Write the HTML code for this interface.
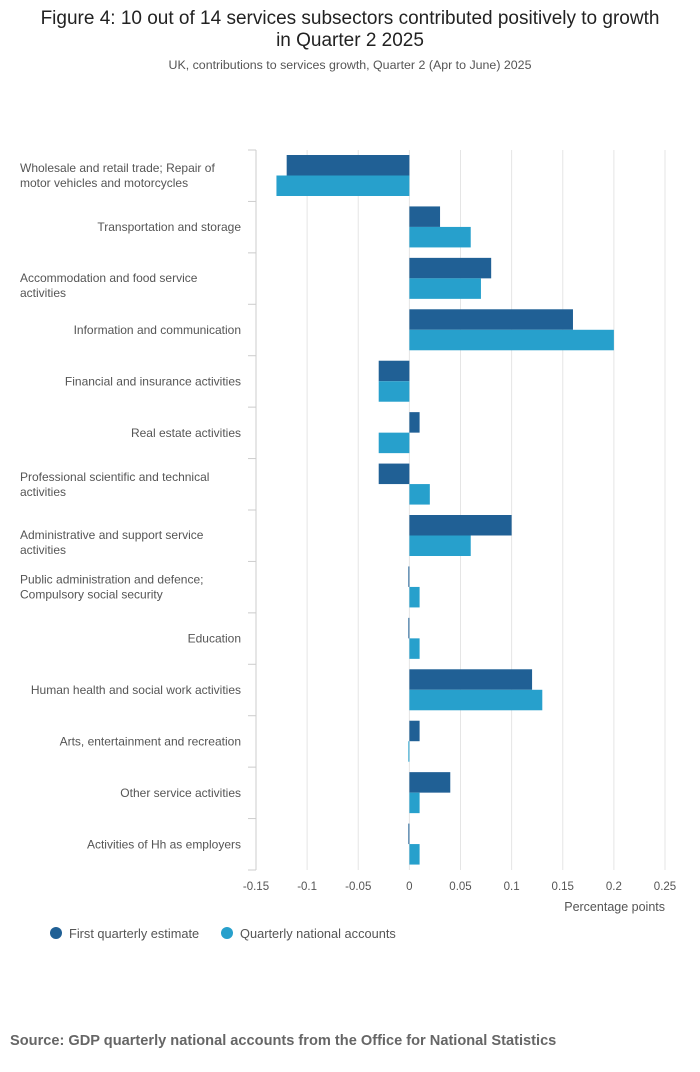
<!DOCTYPE html>
<html><head><meta charset="utf-8"><style>
body{margin:0;background:#fff;font-family:"Liberation Sans",sans-serif;}
#wrap{position:relative;width:700px;height:1067px;}
</style></head><body>
<div id="wrap">
<svg id="chart" width="700" height="1067" xmlns="http://www.w3.org/2000/svg"></svg>
</div>
<script>
const categories=[["Wholesale and retail trade; Repair of","motor vehicles and motorcycles"],["Transportation and storage"],["Accommodation and food service","activities"],["Information and communication"],["Financial and insurance activities"],["Real estate activities"],["Professional scientific and technical","activities"],["Administrative and support service","activities"],["Public administration and defence;","Compulsory social security"],["Education"],["Human health and social work activities"],["Arts, entertainment and recreation"],["Other service activities"],["Activities of Hh as employers"]];
const firstEstimate=[-0.12,0.03,0.08,0.16,-0.03,0.01,-0.03,0.1,-0.001,-0.001,0.12,0.01,0.04,-0.001];
const qna=[-0.13,0.06,0.07,0.2,-0.03,-0.03,0.02,0.06,0.01,0.01,0.13,-0.001,0.01,0.01];
const ticks=[-0.15,-0.1,-0.05,0,0.05,0.1,0.15,0.2,0.25];
const tickLabels=["-0.15","-0.1","-0.05","0","0.05","0.1","0.15","0.2","0.25"];
const seriesNames=["First quarterly estimate","Quarterly national accounts"];
const colors=["#206095","#27a0cc"];
const svg=document.getElementById('chart');
const NS="http://www.w3.org/2000/svg";
const x0=256,x1=665,yTop=150,yBottom=870;
const xs=v=>x0+(v-ticks[0])/(ticks[ticks.length-1]-ticks[0])*(x1-x0);
const band=(yBottom-yTop)/categories.length;
function mk(t,a,txt){const e=document.createElementNS(NS,t);for(const k in a)e.setAttribute(k,a[k]);if(txt!==undefined)e.textContent=txt;svg.appendChild(e);return e;}
let e;
e=mk('text',{x:350,y:24,'text-anchor':'middle','font-size':19,fill:'#222'},'Figure 4: 10 out of 14 services subsectors contributed positively to growth');


e=mk('text',{x:350,y:46,'text-anchor':'middle','font-size':19,fill:'#222'},'in Quarter 2 2025');


e=mk('text',{x:350,y:69,'text-anchor':'middle','font-size':12.4,fill:'#555'},'UK, contributions to services growth, Quarter 2 (Apr to June) 2025');


ticks.forEach((t,i)=>{
 const x=xs(t);
 if(i>0){e=mk('line',{x1:x,x2:x,y1:yTop,y2:yBottom,stroke:'#e5e5e5','stroke-width':1});
 
 }
 e=mk('text',{x:x,y:890,'text-anchor':'middle','font-size':11.5,fill:'#555'},tickLabels[i]);
 
 
});
e=mk('line',{x1:x0,x2:x0,y1:yTop,y2:yBottom,stroke:'#ccc'});


for(let i=0;i<=categories.length;i++){
 e=mk('line',{x1:x0-8,x2:x0,y1:yTop+i*band,y2:yTop+i*band,stroke:'#ccc'});
 
 
}
categories.forEach((c,i)=>{
 const cy=yTop+i*band+band/2;
 const multi=c.length>1;
 const shift=(i===2||i===7)?7:0;
 c.forEach((ln,j)=>{
  const y=cy+4+shift+(multi?(j-0.5)*15:0);
  e=mk('text',{x:multi?20:241,y:y,'text-anchor':multi?'start':'end','font-size':12,fill:'#555'},ln);
  
  
 });
 [firstEstimate,qna].forEach((s,k)=>{
  const v=s[i];const a=xs(0),b=xs(v);
  const y=yTop+i*band+5+k*20.5;
  e=mk('rect',{x:Math.min(a,b),y:y,width:Math.max(Math.abs(b-a),0.8),height:20.5,fill:colors[k]});
  
  
 });
});
e=mk('text',{x:665,y:911,'text-anchor':'end','font-size':12.5,fill:'#555'},'Percentage points');


[[56,69],[227,240]].forEach((p,k)=>{
 e=mk('circle',{cx:p[0],cy:933,r:6,fill:colors[k]});
 
 
 e=mk('text',{x:p[1],y:938,'font-size':12.8,fill:'#555'},seriesNames[k]);
 
 
});
e=mk('text',{x:10,y:1045,'font-size':14.6,'font-weight':'bold',fill:'#666'},'Source: GDP quarterly national accounts from the Office for National Statistics');


</script>
</body></html>
